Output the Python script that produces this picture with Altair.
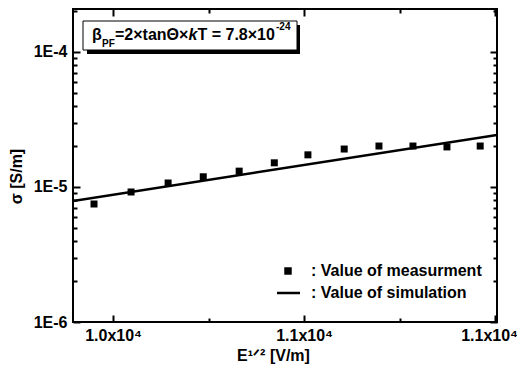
import altair as alt
import pandas as pd

# ---- data ----
x_meas = [9950, 10047, 10144, 10236, 10330, 10422, 10510, 10605, 10696, 10785, 10874, 10961]
y_meas = [7.48e-6, 9.18e-6, 1.07e-5, 1.19e-5, 1.31e-5, 1.51e-5, 1.73e-5, 1.91e-5,
          2.01e-5, 2.01e-5, 1.98e-5, 2.01e-5]
x_sim = [9895, 11005]
y_sim = [7.87e-6, 2.43e-5]

series_names = [": Value of measurment", ": Value of simulation"]

x_major = [10000, 10500, 11000]
x_major_labels = ["1.0x10⁴", "1.1x10⁴", "1.1x10⁴"]
x_minor = [10250, 10750]
y_major = [1e-6, 1e-5, 1e-4]
y_minor = [2e-6, 3e-6, 4e-6, 5e-6, 6e-6, 7e-6, 8e-6, 9e-6,
           2e-5, 3e-5, 4e-5, 5e-5, 6e-5, 7e-5, 8e-5, 9e-5, 2e-4]

x_domain = [9895, 11005]
y_domain = [1e-6, 2.08e-4]

FONT = "Liberation Sans"

meas = pd.DataFrame({"x": x_meas, "y": y_meas, "series": series_names[0]})
sim = pd.DataFrame({"x": x_sim, "y": y_sim, "series": series_names[1]})

xs = alt.Scale(domain=x_domain, nice=False, zero=False)
ys = alt.Scale(type="log", domain=y_domain, nice=False)

x_label_expr = " : ".join(
    f"datum.value == {v} ? '{l}'" for v, l in zip(x_major[:-1], x_major_labels[:-1])
) + f" : '{x_major_labels[-1]}'"


def tick_axis(orient, values, size):
    return alt.Axis(orient=orient, values=values, tickSize=size, offset=-size,
                    labels=False, domain=False, grid=False, title=None,
                    tickColor="black", tickWidth=2)


x_main = alt.Axis(orient="bottom", values=x_major, labelExpr=x_label_expr,
                  ticks=False, tickSize=0, domain=False, grid=False,
                  labelFlush=False, labelOverlap=False, labelPadding=5,
                  labelOffset={"condition": {"test": f"datum.value == {x_major[-1]}",
                                             "value": -6}, "value": 0},
                  title="E¹ᐟ² [V/m]", titlePadding=4, titleX=200)
y_main = alt.Axis(orient="left", values=y_major,
                  labelExpr="'1E' + round(log(datum.value) / LN10)",
                  ticks=False, tickSize=0, domain=False, grid=False,
                  labelOverlap=False, labelPadding=6,
                  title="σ [S/m]", titleX=-49, titleY=167)

points = alt.Chart(meas).mark_point(shape="square", filled=True, size=49,
                                    color="black", opacity=1).encode(
    x=alt.X("x:Q", scale=xs, axis=x_main),
    y=alt.Y("y:Q", scale=ys, axis=y_main),
)

line = alt.Chart(sim).mark_line(color="black", strokeWidth=2.5, clip=True).encode(
    x=alt.X("x:Q", scale=xs, axis=tick_axis("bottom", x_major, 7)),
    y=alt.Y("y:Q", scale=ys, axis=tick_axis("left", y_major, 7)),
)

inv = alt.Chart(meas).mark_point(opacity=0)
l3 = inv.encode(x=alt.X("x:Q", scale=xs, axis=tick_axis("bottom", x_minor, 4)),
                y=alt.Y("y:Q", scale=ys, axis=tick_axis("left", y_minor, 4)))
l4 = inv.encode(x=alt.X("x:Q", scale=xs, axis=tick_axis("top", x_major, 7)),
                y=alt.Y("y:Q", scale=ys, axis=tick_axis("right", y_major, 7)))
l5 = inv.encode(x=alt.X("x:Q", scale=xs, axis=tick_axis("top", x_minor, 4)),
                y=alt.Y("y:Q", scale=ys, axis=tick_axis("right", y_minor, 4)))

one = pd.DataFrame({"a": [0]})

# legend (inside, lower right)
leg_sq = alt.Chart(one).mark_point(shape="square", filled=True, size=56,
                                   color="black", opacity=1).encode(
    x=alt.value(215), y=alt.value(262))
leg_ln = alt.Chart(one).mark_rule(color="black", strokeWidth=2.5).encode(
    x=alt.value(204), x2=alt.value(227), y=alt.value(284))
leg_txt = [
    alt.Chart(one).mark_text(align="left", baseline="middle", font=FONT, fontSize=16,
                             fontWeight="bold", color="black").encode(
        x=alt.value(238), y=alt.value(yy), text=alt.value(name))
    for name, yy in zip(series_names, [262, 284])
]

# annotation box with shadow
shadow = alt.Chart(one).mark_rect(color="black").encode(
    x=alt.value(14), x2=alt.value(227), y=alt.value(16), y2=alt.value(45))
box = alt.Chart(one).mark_rect(fill="white", stroke="black", strokeWidth=1).encode(
    x=alt.value(10), x2=alt.value(224), y=alt.value(12), y2=alt.value(41))

ann_pieces = [
    # text, x, y, size, italic
    ("β", 19, 31, 16, False),
    ("PF", 29, 38, 10, False),
    ("=2×tanΘ×", 42, 31, 16, False),
    ("k", 115.5, 31, 16, True),
    ("T = 7.8×10", 124.5, 31, 16, False),
    ("-24", 203, 21, 10, False),
]
texts = []
for t, px, py, fs, it in ann_pieces:
    texts.append(alt.Chart(one).mark_text(
        align="left", baseline="alphabetic", font=FONT, fontSize=fs,
        fontWeight="bold", fontStyle="italic" if it else "normal", color="black"
    ).encode(x=alt.value(px), y=alt.value(py), text=alt.value(t)))

chart = alt.layer(points, line, l3, l4, l5, leg_sq, leg_ln, *leg_txt,
                  shadow, box, *texts).resolve_axis(
    x="independent", y="independent"
).properties(
    width=424, height=313,
    autosize=alt.AutoSizeParams(type="none"),
    padding={"left": 65, "top": 1, "right": 20, "bottom": 44},
    background="white",
).configure_view(
    stroke="black", strokeWidth=2
).configure_axis(
    labelFont=FONT, labelFontSize=16, labelFontWeight="bold", labelColor="black",
    titleFont=FONT, titleFontSize=16, titleFontWeight="bold", titleColor="black",
)

chart.save("out.html", embed_options={"renderer": "svg", "actions": False})
